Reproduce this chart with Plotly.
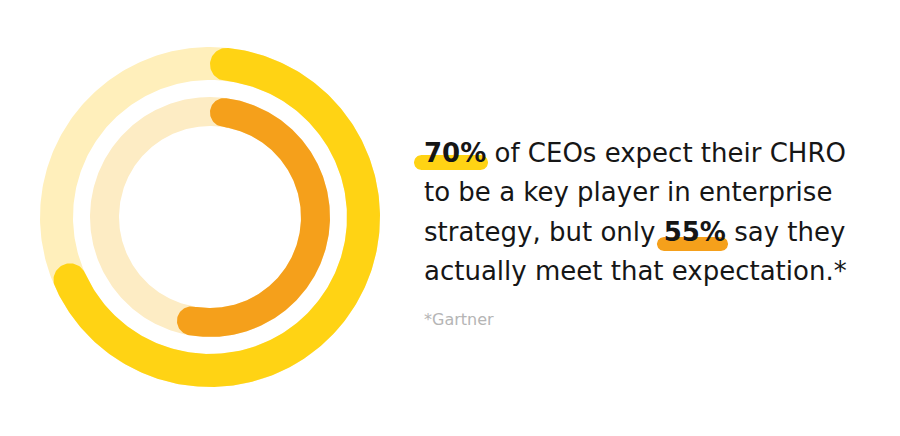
import numpy as np
import plotly.graph_objects as go

# ---- data ----
ring_labels = ["Expect CHRO to be key player", "Say CHRO meets expectation"]
ring_values = [70, 55]          # percent
ring_colors = ["#FFD314", "#F5A01B"]
track_colors = ["#FFEFBB", "#FDECC4"]

text_lines = [
    "<b>70%</b> of CEOs expect their CHRO",
    "to be a key player in enterprise",
    "strategy, but only <b>55%</b> say they",
    "actually meet that expectation.*",
]
source_note = "*Gartner"

# ---- geometry (plot units == pixels, centre of rings at origin) ----
W, H = 900, 436
OFF = 8                      # page body margin offset
CX, CY = 210 - OFF, 217 - OFF
rings_geom = [(137, 170), (91, 120)]   # (inner radius, outer radius)


def px(x, y):
    return x - OFF - CX, CY - (y - OFF)


def annulus(r_in, r_out, n=361):
    t = np.linspace(0, 2 * np.pi, n)
    xs = np.concatenate([r_out * np.sin(t), r_in * np.sin(t[::-1])])
    ys = np.concatenate([r_out * np.cos(t), r_in * np.cos(t[::-1])])
    return xs, ys


def rounded_arc(r_in, r_out, pct, n=300):
    rm = (r_in + r_out) / 2
    w = (r_out - r_in) / 2
    total = pct / 100 * 2 * np.pi
    d = w / rm
    ts, te = d, total - d
    t = np.linspace(ts, te, n)
    xo, yo = r_out * np.sin(t), r_out * np.cos(t)
    phi = np.linspace(0, np.pi, 40)
    ce = np.array([rm * np.sin(te), rm * np.cos(te)])
    u = np.array([np.sin(te), np.cos(te)])
    tv = np.array([np.cos(te), -np.sin(te)])
    cap_e = ce[:, None] + w * (np.outer(u, np.cos(phi)) + np.outer(tv, np.sin(phi)))
    xi, yi = r_in * np.sin(t[::-1]), r_in * np.cos(t[::-1])
    cs = np.array([rm * np.sin(ts), rm * np.cos(ts)])
    u = np.array([np.sin(ts), np.cos(ts)])
    tv = np.array([np.cos(ts), -np.sin(ts)])
    cap_s = cs[:, None] + w * (-np.outer(u, np.cos(phi)) - np.outer(tv, np.sin(phi)))
    xs = np.concatenate([xo, cap_e[0], xi, cap_s[0]])
    ys = np.concatenate([yo, cap_e[1], yi, cap_s[1]])
    return xs, ys


def pill(x0, y0, x1, y1):
    r = (y1 - y0) / 2
    cy = (y0 + y1) / 2
    a = np.linspace(-np.pi / 2, np.pi / 2, 30)
    right_x = (x1 - r) + r * np.cos(a)
    right_y = cy + r * np.sin(a)
    left_x = (x0 + r) - r * np.cos(a)
    left_y = cy - r * np.sin(a)
    xs = np.concatenate([right_x, left_x])
    ys = np.concatenate([right_y, left_y])
    return px(xs, ys)


fig = go.Figure()

for (r_in, r_out), col in zip(rings_geom, track_colors):
    xs, ys = annulus(r_in, r_out)
    fig.add_trace(go.Scatter(x=xs, y=ys, fill="toself", fillcolor=col,
                             mode="lines", line=dict(width=0), hoverinfo="skip"))

for (r_in, r_out), val, col, lab in zip(rings_geom, ring_values, ring_colors, ring_labels):
    xs, ys = rounded_arc(r_in, r_out, val)
    fig.add_trace(go.Scatter(x=xs, y=ys, fill="toself", fillcolor=col,
                             mode="lines", line=dict(width=0), name=lab,
                             hoverinfo="name"))

for (x0, y0, x1, y1), col in zip([(414, 155, 488, 170), (657, 237, 728, 251)], ring_colors):
    xs, ys = pill(x0, y0, x1, y1)
    fig.add_trace(go.Scatter(x=xs, y=ys, fill="toself", fillcolor=col,
                             mode="lines", line=dict(width=0), hoverinfo="skip"))

TEXT_X = 422
line_y = [153, 192, 232, 271]
for line, yy in zip(text_lines, line_y):
    x, y = px(TEXT_X, yy)
    fig.add_annotation(x=x, y=y, text=line, showarrow=False, xanchor="left",
                       yanchor="middle",
                       font=dict(family="DejaVu Sans", size=26, color="#161616"))

x, y = px(TEXT_X, 319)
fig.add_annotation(x=x, y=y, text=source_note, showarrow=False, xanchor="left",
                   yanchor="middle",
                   font=dict(family="DejaVu Sans", size=16, color="#B5B5B5"))

fig.update_layout(
    width=W, height=H, margin=dict(l=0, r=0, t=0, b=0),
    paper_bgcolor="white", plot_bgcolor="white", showlegend=False,
    xaxis=dict(range=[-CX, W - CX], visible=False, fixedrange=True),
    yaxis=dict(range=[CY - H, CY], visible=False, fixedrange=True),
)

fig.write_html("out.html")
